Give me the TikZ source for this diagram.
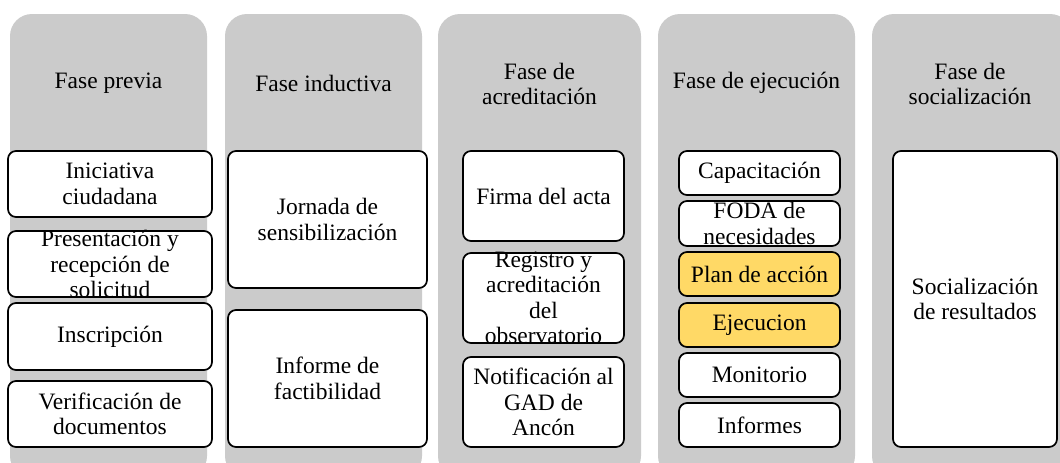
\documentclass[tikz,border=0pt]{standalone}
\usepackage{fontspec}
\setmainfont{Liberation Serif}
\definecolor{colgray}{HTML}{CBCBCB}
\definecolor{hiyellow}{HTML}{FFD966}
\tikzset{
  colbox/.style={fill=colgray, draw=none, rounded corners=22pt},
  wbox/.style={draw=black, fill=white, line width=1.7pt, rounded corners=8pt, inner sep=0pt},
  ybox/.style={wbox, fill=hiyellow},
  txt/.style={align=center, inner sep=0pt, font=\fontsize{23.5}{25.5}\selectfont},
}
\newcommand{\wb}[6]{% style, name, x1, y1, x2, y2
  \path[#1] (#3,#4) rectangle (#5,#6);
  \coordinate (#2) at ({(#3+#5)/2},{(#4+#6)/2});
}
\begin{document}
\begin{tikzpicture}[x=1pt,y=-1pt]
\useasboundingbox (0,0) rectangle (1060,463);
\begin{scope}
\clip (0,0) rectangle (1060,463);
\path[colbox] (10,14) rectangle (207,478);
\path[colbox] (225,14) rectangle (422,478);
\path[colbox] (438,14) rectangle (641,478);
\path[colbox] (658,14) rectangle (855,478);
\path[colbox] (872,14) rectangle (1072,478);
\end{scope}
% headers
\node[txt] (h1) at (108.5,83) {Fase previa};
\node[txt] (h2) at (323.5,83) {Fase inductiva};
\node[txt] (h3) at (539.5,84) {Fase de\\acreditación};
\node[txt] (h4) at (756.5,83) {Fase de ejecución};
\node[txt] (h5) at (970,84) {Fase de\\socialización};
% column 1
\wb{wbox}{a1}{8}{151}{212}{217}
\wb{wbox}{a2}{8}{231}{212}{297}
\wb{wbox}{a3}{8}{303}{212}{370}
\wb{wbox}{a4}{8}{381}{212}{447}
\node[txt] (ta1) at (a1) {Iniciativa\\ciudadana};
\node[txt] (ta2) at (a2) {Presentación y\\recepción de\\solicitud};
\node[txt] (ta3) at (a3) {Inscripción};
\node[txt] (ta4) at (a4) {Verificación de\\documentos};
% column 2
\wb{wbox}{b1}{228}{151}{427}{288}
\wb{wbox}{b2}{228}{310}{427}{447}
\node[txt] (tb1) at (b1) {Jornada de\\sensibilización};
\node[txt] (tb2) at (b2) {Informe de\\factibilidad};
% column 3
\wb{wbox}{c1}{463}{151}{624}{241}
\wb{wbox}{c2}{463}{253}{624}{343}
\wb{wbox}{c3}{463}{357}{624}{447}
\node[txt] (tc1) at (c1) {Firma del acta};
\node[txt] (tc2) at (c2) {Registro y\\acreditación\\del\\observatorio};
\node[txt] (tc3) at (c3) {Notificación al\\GAD de\\Ancón};
% column 4
\wb{wbox}{d1}{679}{151}{840}{195}
\wb{wbox}{d2}{679}{201}{840}{246}
\wb{ybox}{d3}{679}{252}{840}{296}
\wb{ybox}{d4}{679}{303}{840}{347}
\wb{wbox}{d5}{679}{353}{840}{397}
\wb{wbox}{d6}{679}{403}{840}{447}
\node[txt] (td1) at (d1) {Capacitación};
\node[txt] (td2) at (d2) {FODA de\\necesidades};
\node[txt] (td3) at (d3) {Plan de acción};
\node[txt] (td4) at (d4) {Ejecucion};
\node[txt] (td5) at (d5) {Monitorio};
\node[txt] (td6) at (d6) {Informes};
% column 5
\wb{wbox}{e1}{893}{151}{1057}{447}
\node[txt] (te1) at (e1) {Socialización\\de resultados};
\end{tikzpicture}
\end{document}
